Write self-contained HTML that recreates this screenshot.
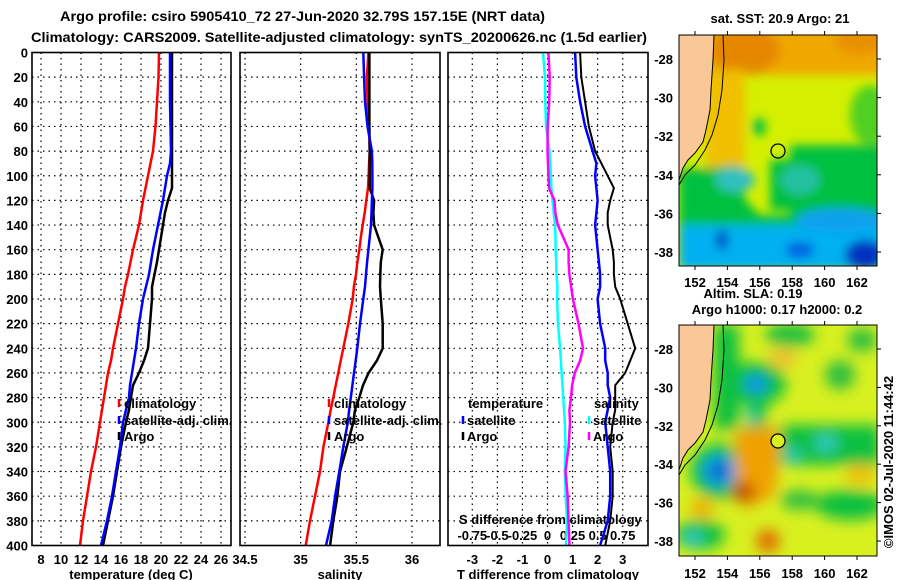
<!DOCTYPE html>
<html><head><meta charset="utf-8"><style>
html,body{margin:0;padding:0;background:#fff;}
svg{display:block;font-family:"Liberation Sans",sans-serif;font-weight:bold;}
text{font-size:13px;fill:#000;}
</style></head><body>
<svg id="chart" width="900" height="580" viewBox="0 0 900 580" xmlns="http://www.w3.org/2000/svg">
<defs>
<filter id="blur1" x="-50%" y="-50%" width="200%" height="200%"><feGaussianBlur stdDeviation="5"/></filter>
<filter id="blur2" x="-50%" y="-50%" width="200%" height="200%"><feGaussianBlur stdDeviation="7"/></filter>
<clipPath id="clipMap1"><rect x="679" y="35" width="198" height="231"/></clipPath>
<clipPath id="clipMap2"><rect x="679" y="325" width="198" height="231"/></clipPath>
</defs>
<text x="60" y="21" textLength="485" lengthAdjust="spacingAndGlyphs" style="font-size:14px">Argo profile: csiro 5905410_72 27-Jun-2020 32.79S 157.15E (NRT data)</text>
<text x="31" y="42" textLength="616" lengthAdjust="spacingAndGlyphs" style="font-size:14px">Climatology: CARS2009. Satellite-adjusted climatology: synTS_20200626.nc (1.5d earlier)</text>

<g id="plots"></g>

<!-- Map 1 : SST -->
<g>
<g clip-path="url(#clipMap1)">
<rect x="679" y="35" width="198" height="231" fill="#d4f000"/>
<g filter="url(#blur1)">
<rect x="700" y="25" width="190" height="50" fill="#f0a800"/>
<ellipse cx="745" cy="50" rx="35" ry="25" fill="#e58800"/>
<ellipse cx="860" cy="40" rx="25" ry="15" fill="#e89000"/>
<rect x="705" y="70" width="40" height="100" fill="#f0c000"/>
<ellipse cx="870" cy="115" rx="20" ry="30" fill="#50d020"/>
<rect x="790" y="145" width="100" height="75" fill="#00c040"/>
<rect x="770" y="160" width="30" height="50" fill="#00c040"/>
<polygon points="679,170 740,165 745,200 760,215 800,215 820,200 880,200 880,230 679,235" fill="#00c040"/>
<ellipse cx="735" cy="180" rx="20" ry="12" fill="#30c0c0"/>
<ellipse cx="800" cy="180" rx="20" ry="15" fill="#20c0a0"/>
<rect x="679" y="225" width="210" height="45" fill="#00b0f0"/>
<ellipse cx="840" cy="220" rx="45" ry="12" fill="#10a0f0"/>
<ellipse cx="865" cy="255" rx="20" ry="15" fill="#0030c0"/>
<ellipse cx="800" cy="250" rx="15" ry="8" fill="#0060e0"/>
<ellipse cx="722" cy="240" rx="6" ry="10" fill="#0040c0"/>
<ellipse cx="759" cy="127" rx="7" ry="9" fill="#00c040"/>
</g>
<polygon points="679,35 714,35 713,60 711,90 710,110 706,130 703,142 695,153 688,160 683,168 679,180" fill="#f9c896"/>
<polyline points="714,35 713,60 711,90 710,110 706,130 703,142 695,153 688,160 683,168 679,180" fill="none" stroke="#000" stroke-width="1"/>
<polyline points="723,35 724,60 722,90 718,115 712,135 705,150 695,165 685,175 679,185" fill="none" stroke="#000" stroke-width="1"/>
<circle cx="778" cy="151" r="7" fill="none" stroke="#000" stroke-width="1.3"/>
</g>
<rect x="679" y="35" width="198" height="231" fill="none" stroke="#000" stroke-width="1"/>
</g>

<!-- Map 2 : SLA -->
<g>
<g clip-path="url(#clipMap2)">
<rect x="679" y="325" width="198" height="231" fill="#d8f020"/>
<g filter="url(#blur2)">
<rect x="714" y="325" width="25" height="105" fill="#10c040"/>
<ellipse cx="756" cy="384" rx="30" ry="22" fill="#10c040"/>
<rect x="748" y="380" width="18" height="50" fill="#10c040"/>
<ellipse cx="756" cy="384" rx="12" ry="9" fill="#1090f0"/>
<ellipse cx="752" cy="415" rx="5" ry="8" fill="#20c0c0"/>
<ellipse cx="790" cy="335" rx="25" ry="12" fill="#20c040"/>
<ellipse cx="783" cy="358" rx="14" ry="10" fill="#f0c030"/>
<ellipse cx="840" cy="375" rx="15" ry="15" fill="#30c040"/>
<ellipse cx="862" cy="340" rx="15" ry="12" fill="#30c040"/>
<ellipse cx="720" cy="471" rx="30" ry="28" fill="#10c040"/>
<ellipse cx="719" cy="471" rx="17" ry="16" fill="#1098f0"/>
<ellipse cx="720" cy="471" rx="7" ry="7" fill="#0030a0"/>
<polygon points="735,430 775,425 780,450 775,495 745,510 735,480" fill="#f0a000"/>
<ellipse cx="743" cy="492" rx="12" ry="10" fill="#c04800"/>
<ellipse cx="768" cy="541" rx="12" ry="12" fill="#e07000"/>
<ellipse cx="702" cy="508" rx="12" ry="10" fill="#f0b000"/>
<rect x="780" y="425" width="100" height="40" fill="#10c040"/>
<ellipse cx="826" cy="443" rx="12" ry="9" fill="#30c8c0"/>
<ellipse cx="793" cy="455" rx="8" ry="8" fill="#30c8c0"/>
<ellipse cx="850" cy="505" rx="35" ry="15" fill="#10c040"/>
<ellipse cx="800" cy="500" rx="20" ry="10" fill="#30c040"/>
<ellipse cx="700" cy="535" rx="25" ry="15" fill="#10c040"/>
<ellipse cx="693" cy="538" rx="10" ry="8" fill="#30c8c8"/>
<ellipse cx="860" cy="475" rx="15" ry="10" fill="#f0c000"/>
</g>
<polygon points="679,325 714,325 713,350 711,380 710,400 706,420 703,432 695,443 688,450 683,458 679,470" fill="#f9c896"/>
<polyline points="714,325 713,350 711,380 710,400 706,420 703,432 695,443 688,450 683,458 679,470" fill="none" stroke="#000" stroke-width="1"/>
<polyline points="723,325 724,350 722,380 718,405 712,425 705,440 695,455 685,465 679,475" fill="none" stroke="#000" stroke-width="1"/>
<circle cx="778" cy="441" r="7" fill="#d8f020" stroke="#000" stroke-width="1.3"/>
</g>
<rect x="679" y="325" width="198" height="231" fill="none" stroke="#000" stroke-width="1"/>
</g>

<text x="780" y="23" text-anchor="middle">sat. SST: 20.9 Argo: 21</text>
<text x="753" y="298" text-anchor="middle">Altim. SLA: 0.19</text>
<text x="777" y="314" text-anchor="middle">Argo h1000: 0.17 h2000: 0.2</text>
<text transform="translate(893,462) rotate(-90)" text-anchor="middle">©IMOS 02-Jul-2020 11:44:42</text>

<script>
// ---- data ----
const depths = [0,20,40,60,80,90,100,110,120,130,140,150,160,170,180,190,200,220,240,250,260,270,280,290,300,320,340,360,380,400];
const tempClim = [19.8,19.75,19.6,19.45,19.2,18.95,18.7,18.45,18.2,18.0,17.8,17.5,17.2,16.95,16.7,16.4,16.2,15.7,15.2,15.0,14.7,14.5,14.3,14.1,13.9,13.5,13.0,12.6,12.2,11.9];
const tempSat = [20.9,20.9,20.9,20.95,21.0,20.9,20.6,20.4,20.2,19.95,19.7,19.45,19.2,19.0,18.8,18.5,18.2,17.8,17.5,17.3,17.1,16.9,16.8,16.5,16.2,15.9,15.5,15.1,14.6,14.0];
const tempArgo = [21.1,21.1,21.1,21.1,21.1,21.1,21.1,21.1,20.7,20.4,20.2,20.0,19.8,19.6,19.35,19.1,19.1,18.9,18.7,18.3,17.8,17.2,17.0,16.8,16.5,16.0,15.6,15.2,14.7,14.2];
const salClim = [35.608,35.595,35.60,35.615,35.62,35.615,35.61,35.605,35.59,35.575,35.557,35.54,35.527,35.51,35.497,35.478,35.467,35.428,35.383,35.36,35.338,35.315,35.293,35.27,35.249,35.204,35.174,35.129,35.084,35.045];
const salSat = [35.563,35.57,35.578,35.60,35.64,35.643,35.644,35.644,35.64,35.636,35.632,35.62,35.608,35.597,35.587,35.578,35.563,35.533,35.509,35.494,35.479,35.465,35.45,35.436,35.423,35.383,35.347,35.309,35.279,35.228];
const salArgo = [35.617,35.617,35.617,35.617,35.62,35.62,35.62,35.62,35.66,35.653,35.66,35.698,35.737,35.72,35.715,35.713,35.72,35.737,35.737,35.685,35.61,35.56,35.527,35.488,35.473,35.414,35.353,35.33,35.293,35.264];
const depthTicks = [0,20,40,60,80,100,120,140,160,180,200,220,240,260,280,300,320,340,360,380,400];
const tempTicks = [8,10,12,14,16,18,20,22,24,26];
const salTicks = [34.5,35,35.5,36];
const salTickLabels = ["34.5","35","35.5","36"];
const diffTicks = [-3,-2,-1,0,1,2,3];
const sDiffTicks = [-0.75,-0.5,-0.25,0,0.25,0.5,0.75];
const sDiffLabels = ["-0.75","-0.5","-0.25","0","0.25","0.5","0.75"];
const mapLons = [152,154,156,158,160,162];
const mapLats = [-28,-30,-32,-34,-36,-38];

// ---- axis functions ----
const NS = "http://www.w3.org/2000/svg";
const yD = d => 52.5 + d * 1.2325;
const xT = t => 41 + (t - 8) * 10;
const xS = s => 245 + (s - 34.5) * 111.33;
const xDiff = t => 547.5 + 25.07 * t;
const xSDiff = s => xDiff(s * 4);
const lonX = l => 695 + (l - 152) * 16.2;
const latY1 = l => 59 + (-28 - l) * 19.3;
const latY2 = l => 349 + (-28 - l) * 19.2;

const plotRoot = document.getElementById('plots');
const svgRoot = document.getElementById('chart');
function mk(tag, attrs, parent) {
  const e = document.createElementNS(NS, tag);
  for (const k in attrs) e.setAttribute(k, attrs[k]);
  (parent || plotRoot).appendChild(e);
  return e;
}
function txt(str, x, y, anchor, parent) {
  const t = mk('text', {x: x, y: y, 'text-anchor': anchor || 'start'}, parent);
  t.textContent = str;
  return t;
}
function poly(xs, ys, color, w) {
  const pts = xs.map((x, i) => x.toFixed(1) + ',' + ys[i].toFixed(1)).join(' ');
  return mk('polyline', {points: pts, fill: 'none', stroke: color, 'stroke-width': w, 'stroke-linejoin': 'miter'});
}

const frames = [
  {name: 'temperature-panel', x0: 32, x1: 231},
  {name: 'salinity-panel', x0: 240, x1: 440},
  {name: 'difference-panel', x0: 448, x1: 648}
];
const yTopPlot = yD(0), yBotPlot = yD(400);

// grids
frames.forEach(f => {
  depthTicks.forEach(d => {
    if (d === 0 || d === 400) return;
    const l = mk('line', {x1: f.x0, x2: f.x1, y1: yD(d), y2: yD(d), stroke: '#000', 'stroke-width': 1.2, 'stroke-dasharray': '1.5 4'});
    
    
  });
});
function vgrid(xs) {
  xs.forEach(x => {
    const l = mk('line', {x1: x, x2: x, y1: yTopPlot, y2: yBotPlot, stroke: '#000', 'stroke-width': 1.2, 'stroke-dasharray': '1.5 4'});
    
    
  });
}
vgrid(tempTicks.map(xT));
vgrid(salTicks.map(xS));
vgrid(diffTicks.map(xDiff));

// depth labels
depthTicks.forEach(d => {
  const t = txt(String(d), 28, yD(d) + 5, 'end');
  
  
});
// x tick labels
tempTicks.forEach(v => {
  const t = txt(String(v), xT(v), 564, 'middle');
  
  
});
salTicks.forEach((v, i) => {
  const t = txt(salTickLabels[i], xS(v), 564, 'middle');
  
  
});
diffTicks.forEach(v => {
  const t = txt(String(v), xDiff(v), 564, 'middle');
  
  
});
sDiffTicks.forEach((v, i) => {
  const t = txt(sDiffLabels[i], xSDiff(v), 540, 'middle');
  
  
});
let at;
at = txt('temperature (deg C)', 131, 579, 'middle');


at = txt('salinity', 340, 579, 'middle');


at = txt('T difference from climatology', 548, 579, 'middle');


at = txt('S difference from climatology', 459, 524, 'start');



// series
const ys = depths.map(yD);
let s;
s = poly(tempClim.map(xT), ys, '#ff0000', 2.5);


s = poly(tempArgo.map(xT), ys, '#000000', 2.5);


s = poly(tempSat.map(xT), ys, '#0000ff', 2.5);



s = poly(salClim.map(xS), ys, '#ff0000', 2.5);


s = poly(salArgo.map(xS), ys, '#000000', 2.5);


s = poly(salSat.map(xS), ys, '#0000ff', 2.5);



s = poly(depths.map((d, i) => xSDiff(salSat[i] - salClim[i])), ys, '#00ffff', 2.5);


s = poly(depths.map((d, i) => xSDiff(salArgo[i] - salClim[i])), ys, '#ff00ff', 2.5);


s = poly(depths.map((d, i) => xDiff(tempArgo[i] - tempClim[i])), ys, '#000000', 2);


s = poly(depths.map((d, i) => xDiff(tempSat[i] - tempClim[i])), ys, '#0000ff', 2.5);



// frames
frames.forEach(f => {
  const r = mk('rect', {x: f.x0, y: yTopPlot, width: f.x1 - f.x0, height: yBotPlot - yTopPlot, fill: 'none', stroke: '#000', 'stroke-width': 1.6});
  
  
});

// legends
function legItem(mx, tx, y, color, label, name) {
  const g = mk('g', {});
  
  
  if (color) mk('line', {x1: mx, x2: mx, y1: y - 9, y2: y - 1, stroke: color, 'stroke-width': 2.5}, g);
  txt(label, tx, y, 'start', g);
}
legItem(119, 124, 408, '#ff0000', 'climatology', 'legend-temp-climatology');
legItem(119, 124, 425, '#0000ff', 'satellite-adj. clim.', 'legend-temp-satellite');
legItem(119, 124, 441, '#000000', 'Argo', 'legend-temp-argo');
legItem(329, 334, 408, '#ff0000', 'climatology', 'legend-sal-climatology');
legItem(329, 334, 425, '#0000ff', 'satellite-adj. clim.', 'legend-sal-satellite');
legItem(329, 334, 441, '#000000', 'Argo', 'legend-sal-argo');
legItem(0, 468, 408, null, 'temperature', 'legend-diff-temperature-header');
legItem(463, 467, 425, '#0000ff', 'satellite', 'legend-diff-temp-satellite');
legItem(463, 467, 441, '#000000', 'Argo', 'legend-diff-temp-argo');
legItem(0, 594, 408, null, 'salinity', 'legend-diff-salinity-header');
legItem(589, 593, 425, '#00ffff', 'satellite', 'legend-diff-sal-satellite');
legItem(589, 593, 441, '#ff00ff', 'Argo', 'legend-diff-sal-argo');

// map axes
[[latY1, 35, 266, 287], [latY2, 325, 556, 578]].forEach(([ly, y0, y1, lb]) => {
  mapLons.forEach(l => {
    const t = txt(String(l), lonX(l), lb, 'middle', svgRoot);
    
    
    mk('line', {x1: lonX(l), x2: lonX(l), y1: y0 - 4, y2: y0, stroke: '#000', 'stroke-width': 1}, svgRoot);
    mk('line', {x1: lonX(l), x2: lonX(l), y1: y1, y2: y1 + 4, stroke: '#000', 'stroke-width': 1}, svgRoot);
  });
  mapLats.forEach(l => {
    const t = txt(String(l), 673, ly(l) + 5, 'end', svgRoot);
    
    
    mk('line', {x1: 877, x2: 881, y1: ly(l), y2: ly(l), stroke: '#000', 'stroke-width': 1}, svgRoot);
  });
});
</script>
</svg>
</body></html>
